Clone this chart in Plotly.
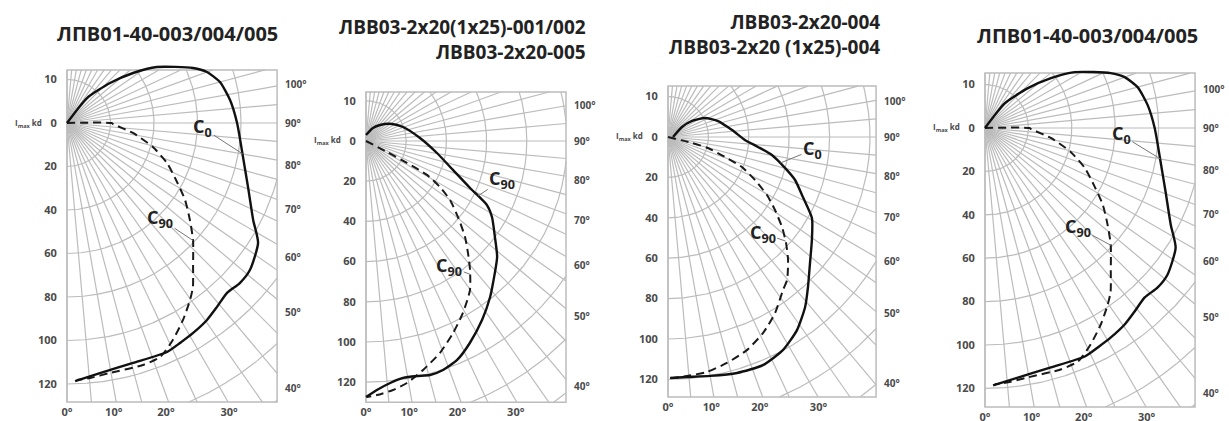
import numpy as np
import plotly.graph_objects as go

W, H = 1229, 421

# ---------------- data (angle from nadir in degrees, intensity in cd) ----------------
lpv_c0_angle = [145, 141.3, 132.9, 127.1, 121.9, 113.6, 110.0, 105.0, 98.0, 90.0, 79.1, 70.5,
                62.5, 57.9, 51.2, 47.2, 43.3, 39.2, 35.4, 31.0, 27.2, 23.6, 15.4, 7.5, 1.8]
lpv_c0_int = [0, 14.7, 27.0, 38.1, 48.7, 63.2, 68.5, 72.8, 75.7, 78.2, 82.4, 88.3,
              96.5, 103.7, 107.9, 108.3, 107.3, 109.1, 111.1, 112.6, 113.7, 114.9, 114.4, 116.0, 118.7]
lpv_c90_angle = [92, 90.0, 88.8, 81.4, 74.4, 68.2, 61.8, 56.9, 51.7, 47.1, 41.2, 37.5, 34.8,
                 30.5, 26.0, 21.7, 17.4, 9.8, 5.2, 2.2]
lpv_c90_int = [0, 20.5, 21.1, 30.7, 41.0, 49.5, 57.4, 64.8, 72.0, 79.1, 88.0, 95.1, 99.1,
               105.1, 111.0, 115.8, 116.6, 116.6, 117.7, 118.2]

lvv1_c0_angle = [180, 151.7, 138.8, 123.2, 110.7, 93.2, 80.4, 71.6, 65.7, 62.1, 58.9, 53.3, 48.5,
                 41.8, 38.5, 33.0, 27.2, 22.6, 18.6, 15.3, 12.2, 8.9, 5.7, 2.5, 0]
lvv1_c0_int = [3, 7.3, 10.6, 15.5, 19.7, 26.9, 35.8, 45.6, 56.8, 68.1, 73.2, 80.0, 87.1,
               94.8, 99.2, 106.1, 113.0, 118.0, 120.2, 120.7, 119.6, 119.3, 121.0, 124.0, 127.4]
lvv1_c90_angle = [62, 62.4, 61.8, 60.9, 58.1, 54.9, 50.4, 45.9, 42.3, 38.9, 34.9, 29.4, 24.4,
                  19.2, 14.0, 9.6, 6.2, 2.5, 0.2]
lvv1_c90_int = [0, 11.8, 23.1, 34.7, 43.3, 51.1, 59.4, 68.6, 75.4, 82.4, 90.4, 98.2, 104.9,
                111.7, 117.4, 122.1, 124.6, 126.5, 127.4]

lvv4_c0_angle = [90, 125.5, 123.7, 117.2, 107.7, 96.2, 87.8, 83.7, 80.2, 75.2, 71.3, 66.0, 60.6,
                 54.4, 48.4, 43.0, 38.9, 33.8, 28.4, 22.6, 16.3, 10.0, 4.5, 0.5]
lvv4_c0_int = [2.5, 8.5, 14.3, 20.6, 26.0, 31.9, 38.1, 44.8, 52.2, 59.9, 66.4, 73.1, 81.8,
               87.6, 94.0, 101.6, 108.1, 114.9, 119.8, 122.3, 121.7, 120.1, 119.2, 119.3]
lvv4_c90_angle = [78, 76.0, 74.6, 70.7, 67.9, 63.7, 59.6, 55.7, 51.7, 48.1, 44.3, 39.8, 36.9,
                  31.3, 25.9, 20.3, 14.6, 9.4, 4.5, 1.2]
lvv4_c90_int = [0, 12.2, 20.5, 29.9, 39.5, 48.0, 56.8, 64.1, 71.9, 78.5, 85.1, 92.1, 94.8,
                102.0, 107.8, 112.5, 115.6, 117.9, 118.7, 119.3]

left_tick_text = ["10", "0", "20", "40", "60", "80", "100", "120"]
left_tick_vals = [20, 0, -20, -40, -60, -80, -100, -120]
right_labels = ["100°", "90°", "80°", "70°", "60°", "50°", "40°"]
right_label_vals = [18, 0, -19.5, -39.5, -61.5, -87, -122]
bottom_labels = ["0°", "10°", "20°", "30°"]
bottom_label_vals = [0, 21.5, 45.5, 74.5]

titles = [
    "ЛПВ01-40-003/004/005",
    "ЛВВ03-2x20(1x25)-001/002<br>ЛВВ03-2x20-005",
    "ЛВВ03-2x20-004<br>ЛВВ03-2x20 (1x25)-004",
    "ЛПВ01-40-003/004/005",
]

curves = {
    "lpv": ((lpv_c0_angle, lpv_c0_int), (lpv_c90_angle, lpv_c90_int)),
    "lvv1": ((lvv1_c0_angle, lvv1_c0_int), (lvv1_c90_angle, lvv1_c90_int)),
    "lvv4": ((lvv4_c0_angle, lvv4_c0_int), (lvv4_c90_angle, lvv4_c90_int)),
}

# ---------------- layout geometry (pixels) ----------------
panels = [
    dict(ox=67, oy=123, s=2.175, xmax=96.6, ytop=24.4, ybot=128.3, data="lpv",
         title=dict(x=167, y=33, anchor="center", size=20),
         lab0=("C<sub>0</sub>", 80, -40, -26), lab90=("C<sub>90</sub>", 47, -33, -22)),
    dict(ox=366, oy=141, s=2.01, xmax=99.5, ytop=24.4, ybot=130.0, data="lvv1",
         title=dict(x=588, y=40, anchor="right", size=19),
         lab0=("C<sub>90</sub>", 64, 24, -16), lab90=("C<sub>90</sub>", 38, -21, -8)),
    dict(ox=668, oy=137, s=2.02, xmax=103.0, ytop=25.2, ybot=128.7, data="lvv4",
         title=dict(x=882, y=34, anchor="right", size=19),
         lab0=("C<sub>0</sub>", 77, 32, -13), lab90=("C<sub>90</sub>", 48.5, -23, -8)),
    dict(ox=985, oy=128, s=2.17, xmax=96.8, ytop=25.3, ybot=128.6, data="lpv",
         title=dict(x=1087, y=35, anchor="center", size=20),
         lab0=("C<sub>0</sub>", 80, -39, -24), lab90=("C<sub>90</sub>", 47, -33, -18)),
]

PAD = 5      # left / right / top padding (px) around each box
PAD_B = 2    # bottom padding (px)
GRID = "rgb(188,188,188)"
FONT = "Open Sans"


def to_xy(angles, ints):
    a = np.radians(np.asarray(angles, float))
    r = np.asarray(ints, float)
    return r * np.sin(a), -r * np.cos(a)


def interp_int(angles, ints, th):
    a = np.asarray(angles, float)
    r = np.asarray(ints, float)
    order = np.argsort(a)
    return float(np.interp(th, a[order], r[order]))


def grid_xy(xmax, ytop, ybot):
    xs, ys = [], []
    for th in range(0, 181, 5):
        t = np.radians(th)
        dx, dy = np.sin(t), -np.cos(t)
        ts = []
        if dx > 1e-9:
            ts.append(xmax / dx)
        if dy > 1e-9:
            ts.append(ytop / dy)
        if dy < -1e-9:
            ts.append(-ybot / dy)
        tm = min(ts)
        xs += [0, tm * dx, None]
        ys += [0, tm * dy, None]
    th = np.linspace(0, np.pi, 2401)
    for r in range(20, 181, 20):
        cx, cy = r * np.sin(th), -r * np.cos(th)
        inside = (cx <= xmax) & (cy <= ytop) & (cy >= -ybot)
        for x, y, ok in zip(cx, cy, inside):
            if ok:
                xs.append(float(x)); ys.append(float(y))
            else:
                if xs and xs[-1] is not None:
                    xs.append(None); ys.append(None)
        xs.append(None); ys.append(None)
    return xs, ys


fig = go.Figure()
annotations = []
shapes = []

for i, p in enumerate(panels, start=1):
    xa = "x" if i == 1 else f"x{i}"
    ya = "y" if i == 1 else f"y{i}"
    s = p["s"]
    xmax, ytop, ybot = p["xmax"], p["ytop"], p["ybot"]

    gx, gy = grid_xy(xmax, ytop, ybot)
    fig.add_trace(go.Scatter(x=gx, y=gy, mode="lines", xaxis=xa, yaxis=ya,
                             line=dict(color=GRID, width=1.2), hoverinfo="skip",
                             showlegend=False))
    (a0, i0), (a90, i90) = curves[p["data"]]
    x0, y0 = to_xy(a0, i0)
    x9, y9 = to_xy(a90, i90)
    fig.add_trace(go.Scatter(x=x9, y=y9, mode="lines", xaxis=xa, yaxis=ya,
                             line=dict(color="#1a1a1a", width=2, dash="8px,5px",
                                       shape="spline", smoothing=0.6),
                             showlegend=False))
    fig.add_trace(go.Scatter(x=x0, y=y0, mode="lines", xaxis=xa, yaxis=ya,
                             line=dict(color="#111", width=2.4, shape="spline", smoothing=0.6),
                             showlegend=False))

    # box
    shapes.append(dict(type="rect", xref=xa, yref=ya, x0=0, x1=xmax, y0=-ybot, y1=ytop,
                       line=dict(color=GRID, width=1.5), layer="below"))

    # axes with exact pixel mapping
    xd = [(p["ox"] - PAD) / W, (p["ox"] + xmax * s + PAD) / W]
    yd = [1 - (p["oy"] + ybot * s + PAD_B) / H, 1 - (p["oy"] - ytop * s - PAD) / H]
    tickfont = dict(family=FONT, size=11, color="#4a4a4a", weight="bold")
    fig.update_layout(**{
        ("xaxis" if i == 1 else f"xaxis{i}"): dict(
            domain=xd, range=[-PAD / s, xmax + PAD / s], showgrid=False, zeroline=False,
            showline=False, tickmode="array", tickvals=bottom_label_vals,
            ticktext=bottom_labels, ticks="", tickfont=tickfont, anchor=ya,
            fixedrange=True, automargin=False),
        ("yaxis" if i == 1 else f"yaxis{i}"): dict(
            domain=yd, range=[-ybot - PAD_B / s, ytop + PAD / s], showgrid=False,
            zeroline=False, showline=False, tickmode="array", tickvals=left_tick_vals,
            ticktext=left_tick_text, ticks="outside", ticklen=2, tickcolor="rgba(0,0,0,0)",
            tickfont=tickfont, anchor=xa, fixedrange=True, automargin=False),
    })

    # right angle labels
    for txt, yv in zip(right_labels, right_label_vals):
        annotations.append(dict(x=xmax, y=yv, xref=xa, yref=ya, text=txt, showarrow=False,
                                xanchor="left", yanchor="middle", xshift=6,
                                font=dict(family=FONT, size=10, color="#4a4a4a", weight="bold")))
    # I label
    annotations.append(dict(x=0, y=0, xref=xa, yref=ya, text="I<sub>max</sub> kd",
                            showarrow=False, xanchor="right", yanchor="middle", xshift=-23,
                            font=dict(family=FONT, size=8, color="#4a4a4a", weight="bold")))
    # curve labels
    for (txt, th, ax, ay), (aa, ii) in ((p["lab0"], (a0, i0)), (p["lab90"], (a90, i90))):
        r = interp_int(aa, ii, th)
        tx, ty = r * np.sin(np.radians(th)), -r * np.cos(np.radians(th))
        annotations.append(dict(x=tx, y=ty, xref=xa, yref=ya, text=txt, showarrow=True,
                                arrowhead=0, arrowwidth=1, arrowcolor="#777", ax=ax, ay=ay,
                                standoff=0, font=dict(family=FONT, size=18, color="#222",
                                                      weight="bold")))
    # title
    t = p["title"]
    annotations.append(dict(x=t["x"] / W, y=1 - t["y"] / H, xref="paper", yref="paper",
                            text=titles[i - 1], showarrow=False, xanchor=t["anchor"],
                            yanchor="middle", align="right" if t["anchor"] == "right" else "center",
                            font=dict(family=FONT, size=t["size"], color="#222", weight="bold")))

fig.update_layout(width=W, height=H, margin=dict(l=0, r=0, t=0, b=0),
                  paper_bgcolor="white", plot_bgcolor="rgba(0,0,0,0)",
                  annotations=annotations, shapes=shapes, showlegend=False)

fig.write_html("out.html", config={"displayModeBar": False},
               post_script="document.body.style.margin='0px';document.body.style.overflow='hidden';")
